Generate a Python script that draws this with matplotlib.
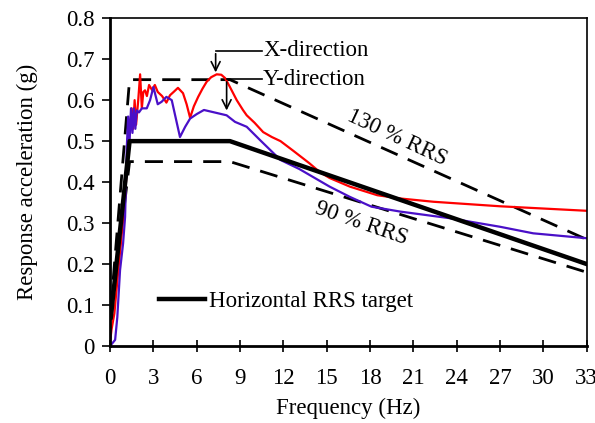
import matplotlib.pyplot as plt

plt.rcParams['font.family'] = ['Liberation Serif', 'DejaVu Serif']
plt.rcParams['font.size'] = 16.5

# horizontal RRS target and the +30 % / -10 % bounds
target_f = [0.05, 1.35, 8.3, 33.0]
target_g = [0.07, 0.50, 0.50, 0.20]
upper_g = [0.091, 0.65, 0.65, 0.26]
lower_g = [0.063, 0.45, 0.45, 0.18]

# measured response spectra
x_freq = [0.0, 0.1, 0.3, 0.57, 0.8, 1.04, 1.2, 1.38, 1.5, 1.6, 1.7, 1.8, 1.95, 2.08, 2.2,
          2.3, 2.42, 2.55, 2.7, 2.9, 3.1, 3.3, 3.6, 3.9, 4.15, 4.4, 4.7, 5.05, 5.3, 5.54,
          5.8, 6.1, 6.4, 6.69, 7.0, 7.38, 7.7, 7.96, 8.3, 8.77, 9.2, 9.46, 10.0, 10.6,
          11.2, 11.8, 12.7, 13.8, 14.5, 15.2, 16.6, 18.5, 20.1, 22.4, 27.0, 33.0]
x_acc = [0.01, 0.04, 0.08, 0.185, 0.27, 0.364, 0.46, 0.535, 0.58, 0.53, 0.60, 0.54, 0.60, 0.663, 0.58,
         0.62, 0.624, 0.61, 0.637, 0.625, 0.637, 0.62, 0.61, 0.594, 0.612, 0.62, 0.63, 0.617, 0.59, 0.557,
         0.585, 0.608, 0.628, 0.645, 0.656, 0.663, 0.662, 0.654, 0.632, 0.60, 0.576, 0.563, 0.545, 0.522,
         0.51, 0.50, 0.476, 0.446, 0.425, 0.41, 0.389, 0.368, 0.36, 0.352, 0.341, 0.33]

y_freq = [0.0, 0.35, 0.5, 0.69, 0.9, 1.04, 1.15, 1.25, 1.35, 1.45, 1.55, 1.65, 1.75, 1.85, 2.0,
          2.2, 2.54, 2.77, 3.0, 3.3, 3.57, 3.9, 4.27, 4.84, 5.2, 5.54, 6.0, 6.5, 7.47, 8.07,
          8.65, 9.46, 10.4, 11.8, 13.1, 15.2, 16.6, 18.1, 20.1, 23.5, 27.0, 29.3, 33.0]
y_acc = [0.0, 0.015, 0.07, 0.185, 0.25, 0.315, 0.478, 0.56, 0.50, 0.58, 0.52, 0.58, 0.53, 0.575, 0.57,
         0.58, 0.58, 0.60, 0.632, 0.59, 0.596, 0.608, 0.60, 0.51, 0.535, 0.555, 0.566, 0.576, 0.568, 0.563,
         0.547, 0.535, 0.502, 0.454, 0.432, 0.389, 0.364, 0.34, 0.328, 0.312, 0.291, 0.275, 0.263]

fig = plt.figure(figsize=(5.95, 4.23), dpi=100)
ax = fig.add_axes([0.185, 0.182, 0.801, 0.775])

ax.plot(target_f, upper_g, color='black', lw=2, dashes=(6.5, 4))
ax.plot(target_f, lower_g, color='black', lw=2, dashes=(6.5, 4))
ax.plot(x_freq, x_acc, color='#ff0000', lw=1.6)
ax.plot(y_freq, y_acc, color='#4a10c8', lw=1.6)
ax.plot(target_f, target_g, color='black', lw=3.2, label='Horizontal RRS target')

# direction callouts
ax.annotate('', xy=(7.31, 0.661), xytext=(7.31, 0.72),
            arrowprops=dict(arrowstyle='->', color='black', lw=1.2, mutation_scale=16))
ax.plot([7.31, 10.5], [0.72, 0.72], color='black', lw=1.2)
ax.text(10.6, 0.72, 'X-direction', va='center', ha='left')
ax.annotate('', xy=(8.07, 0.568), xytext=(8.07, 0.651),
            arrowprops=dict(arrowstyle='->', color='black', lw=1.2, mutation_scale=16))
ax.plot([8.07, 10.5], [0.651, 0.651], color='black', lw=1.2)
ax.text(10.6, 0.651, 'Y-direction', va='center', ha='left')

ax.text(19.9, 0.507, '130 % RRS', rotation=-25, ha='center', va='center')
ax.text(17.4, 0.30, '90 % RRS', rotation=-19, ha='center', va='center')

ax.set_xlim(0, 33)
ax.set_ylim(0, 0.8)
ax.set_xticks(range(0, 34, 3))
ax.set_yticks([0, 0.1, 0.2, 0.3, 0.4, 0.5, 0.6, 0.7, 0.8])
ax.set_yticklabels(['0', '0.1', '0.2', '0.3', '0.4', '0.5', '0.6', '0.7', '0.8'])
ax.tick_params(axis='x', direction='inout', length=8, width=1.2, pad=12)
ax.tick_params(axis='y', direction='out', length=6, width=1.2, pad=5)
for s in ax.spines.values():
    s.set_linewidth(1.2)
ax.spines['left'].set_linewidth(2)
ax.spines['bottom'].set_linewidth(2)

ax.set_xlabel('Frequency (Hz)', labelpad=6)
ax.set_ylabel('Response acceleration (g)', labelpad=20)
ax.legend(loc='lower left', bbox_to_anchor=(0.06, 0.04), frameon=False,
          handlelength=2.0, handletextpad=0.15)

fig.savefig('out.png', dpi=100)
